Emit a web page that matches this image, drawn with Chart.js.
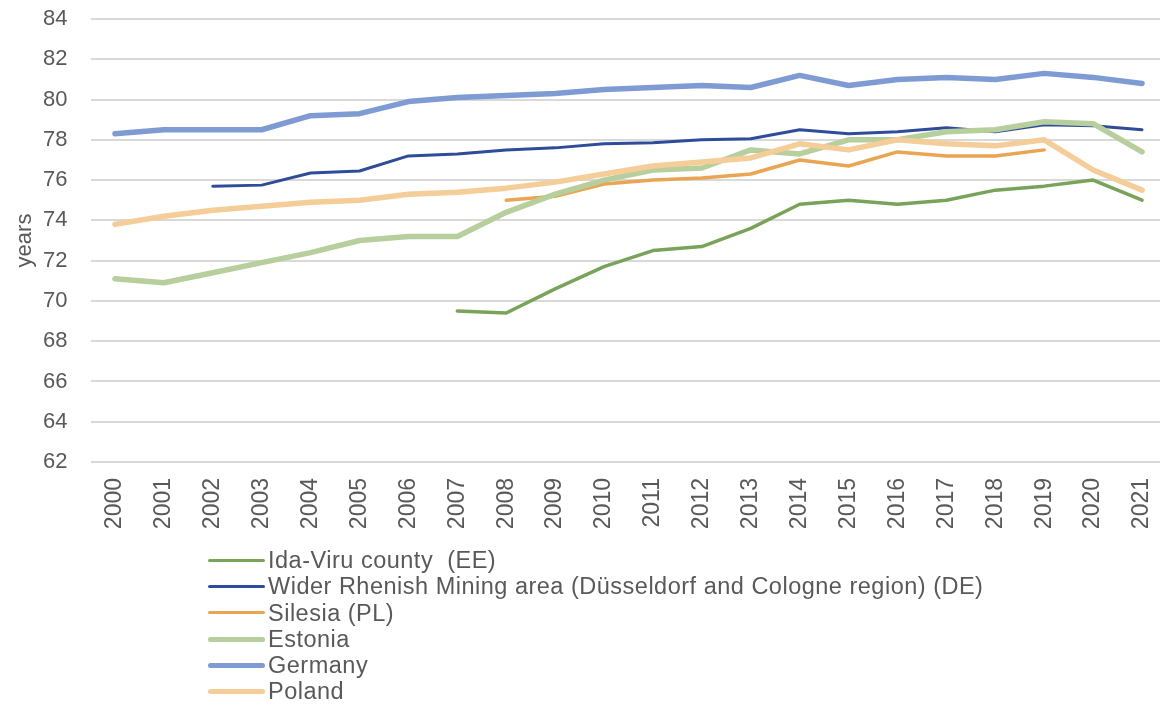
<!DOCTYPE html>
<html>
<head>
<meta charset="utf-8">
<script src="https://cdn.jsdelivr.net/npm/chart.js@4.4.1/dist/chart.umd.min.js"></script>
<style>
  html, body { margin: 0; padding: 0; background: #fff; overflow: hidden; }
  #wrap { position: relative; width: 1160px; height: 705px; overflow: hidden; }
  #chart { position: absolute; left: 0; top: 0; }
  #legend {
    position: absolute; left: 208px; top: 547px;
    font-family: "Liberation Sans", Arial, sans-serif; font-size: 23.5px; letter-spacing: 0.5px; color: #595959;
  }
  .row { height: 26.3px; line-height: 26.3px; white-space: pre; display: flex; align-items: center; }
  .swatch { display: inline-block; width: 57px; border-radius: 3px; margin-right: 3px; }
</style>
</head>
<body>
<div id="wrap">
  <canvas id="chart" width="1172" height="705"></canvas>
  <div id="legend"></div>
</div>
<script>
// Life expectancy, years
const years = ['2000', '2001', '2002', '2003', '2004', '2005', '2006', '2007', '2008', '2009', '2010',
  '2011', '2012', '2013', '2014', '2015', '2016', '2017', '2018', '2019', '2020', '2021'];

const idaViru = [null, null, null, null, null, null, null, 69.5, 69.4, 70.6, 71.7,
  72.5, 72.7, 73.6, 74.8, 75.0, 74.8, 75.0, 75.5, 75.7, 76.0, 75.0];
const rhenish = [null, null, 75.7, 75.75, 76.35, 76.45, 77.2, 77.3, 77.5, 77.6, 77.8,
  77.85, 78.0, 78.05, 78.5, 78.3, 78.4, 78.6, 78.4, 78.75, 78.7, 78.5];
const silesia = [null, null, null, null, null, null, null, null, 75.0, 75.2, 75.8,
  76.0, 76.1, 76.3, 77.0, 76.7, 77.4, 77.2, 77.2, 77.5, null, null];
const estonia = [71.1, 70.9, 71.4, 71.9, 72.4, 73.0, 73.2, 73.2, 74.4, 75.3, 76.0,
  76.5, 76.6, 77.5, 77.3, 78.0, 78.0, 78.4, 78.5, 78.9, 78.8, 77.4];
const germany = [78.3, 78.5, 78.5, 78.5, 79.2, 79.3, 79.9, 80.1, 80.2, 80.3, 80.5,
  80.6, 80.7, 80.6, 81.2, 80.7, 81.0, 81.1, 81.0, 81.3, 81.1, 80.8];
const poland = [73.8, 74.2, 74.5, 74.7, 74.9, 75.0, 75.3, 75.4, 75.6, 75.9, 76.3,
  76.7, 76.9, 77.1, 77.8, 77.5, 78.0, 77.8, 77.7, 78.0, 76.5, 75.5];

const seriesNames = ['Ida-Viru county  (EE)',
  'Wider Rhenish Mining area (Düsseldorf and Cologne region) (DE)',
  'Silesia (PL)', 'Estonia', 'Germany', 'Poland'];

const FONT = '"Liberation Sans", Arial, sans-serif';
const TEXT = '#595959';

const styles = [
  { color: '#7aa35a', width: 3.5 },
  { color: '#2f4c9a', width: 3 },
  { color: '#e9a552', width: 3.5 },
  { color: '#b6cf9c', width: 5.5 },
  { color: '#7f9bd4', width: 5.5 },
  { color: '#f4cd98', width: 5.5 }
];

const allData = [idaViru, rhenish, silesia, estonia, germany, poland];

// later series sit on top, like the original
const datasets = allData.map((d, i) => ({
  label: seriesNames[i],
  data: d,
  borderColor: styles[i].color,
  backgroundColor: styles[i].color,
  borderWidth: styles[i].width,
  pointRadius: 0,
  tension: 0,
  borderCapStyle: 'round',
  borderJoinStyle: 'round',
  spanGaps: false,
  order: allData.length - i
}));

new Chart(document.getElementById('chart'), {
  type: 'line',
  data: { labels: years, datasets: datasets },
  options: {
    responsive: false,
    animation: false,
    layout: { padding: { top: 19, right: 5.5, left: 0, bottom: 0 } },
    plugins: { legend: { display: false }, tooltip: { enabled: false } },
    scales: {
      x: {
        offset: true,
        grid: { display: false, drawTicks: false },
        border: { display: false },
        ticks: {
          color: TEXT, font: { family: FONT, size: 23 },
          minRotation: 90, maxRotation: 90, padding: 16, autoSkip: false
        },
        afterFit(scale) {
          scale.height = 243;
          scale.paddingLeft = 0;
          scale.paddingRight = 0;
        }
      },
      y: {
        min: 62, max: 84,
        grid: { color: '#d9d9d9', lineWidth: 2, drawTicks: false },
        border: { display: false },
        ticks: { stepSize: 2, color: TEXT, font: { family: FONT, size: 22 }, padding: 23 },
        title: {
          display: true, text: 'years', color: TEXT,
          font: { family: FONT, size: 22 }, padding: { top: 12, bottom: 0 }
        },
        afterFit(scale) {
          scale.width = 90.5;
          scale.paddingTop = 0;
          scale.paddingBottom = 0;
        }
      }
    }
  }
});

// legend as a plain list under the axis
const legend = document.getElementById('legend');
seriesNames.forEach((name, i) => {
  const row = document.createElement('div');
  row.className = 'row';
  const sw = document.createElement('span');
  sw.className = 'swatch';
  sw.style.background = styles[i].color;
  sw.style.height = Math.max(3, styles[i].width - 0.5) + 'px';
  row.appendChild(sw);
  row.appendChild(document.createTextNode(name));
  legend.appendChild(row);
});
</script>
</body>
</html>
